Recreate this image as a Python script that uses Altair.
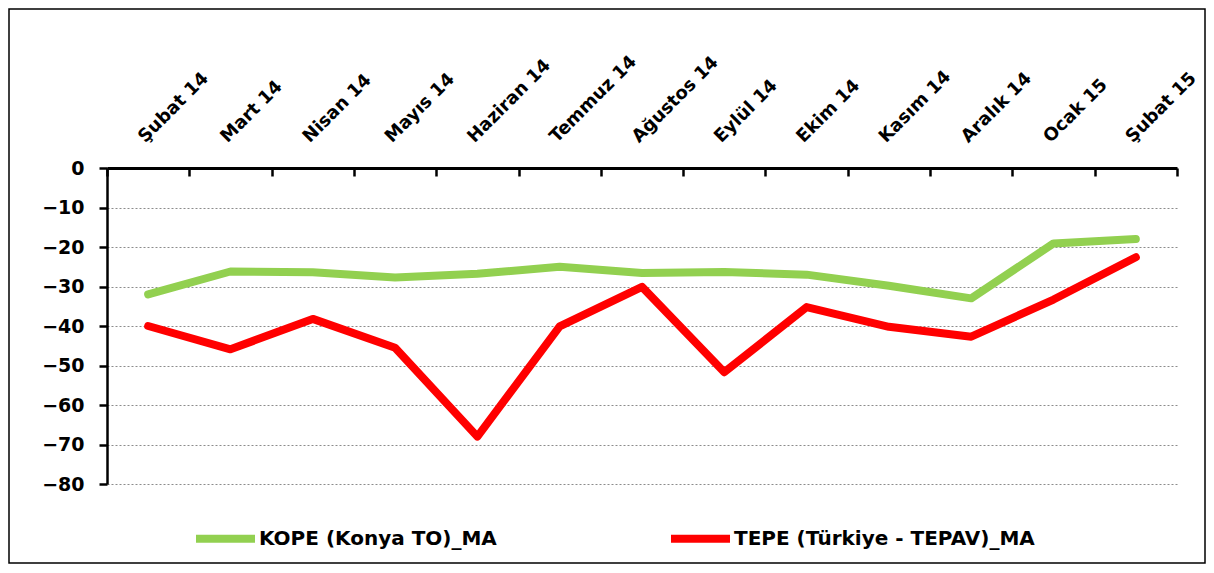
import altair as alt
import pandas as pd

months = ["Şubat 14", "Mart 14", "Nisan 14", "Mayıs 14", "Haziran 14", "Temmuz 14",
          "Ağustos 14", "Eylül 14", "Ekim 14", "Kasım 14", "Aralık 14", "Ocak 15", "Şubat 15"]
kope = [-32.0, -26.2, -26.4, -27.7, -26.8, -25.0, -26.6, -26.3, -27.0, -29.8, -33.0, -19.1, -18.0]
tepe = [-40.0, -45.9, -38.2, -45.5, -68.0, -40.1, -30.1, -51.7, -35.2, -40.2, -42.7, -33.3, -22.6]
series_names = ["KOPE (Konya TO)_MA", "TEPE (Türkiye - TEPAV)_MA"]
series_colors = ["#92D050", "#FF0000"]
y_ticks = [-80, -70, -60, -50, -40, -30, -20, -10, 0]

rows = []
for i, m in enumerate(months):
    rows.append({"month": m, "order": i, "series": series_names[0], "value": kope[i]})
    rows.append({"month": m, "order": i, "series": series_names[1], "value": tepe[i]})
df = pd.DataFrame(rows)

FONT = "DejaVu Sans"
W, H = 1070, 316
PAD_L, PAD_T, PAD_R, PAD_B = 99, 160, 29, 80

x_scale = alt.Scale(type="band", domain=months, paddingInner=0, paddingOuter=0)
y_scale = alt.Scale(domain=[-80, 0], nice=False)

y_axis = alt.Axis(values=y_ticks, format="d", domain=True, domainColor="black", domainWidth=2.5,
                  ticks=True, tickSize=8, tickWidth=2.5, tickColor="black",
                  labelFont=FONT, labelFontSize=19, labelFontWeight="bold", labelColor="black",
                  labelPadding=15, grid=True, gridColor="#8c8c8c", gridDash=[2, 2], gridWidth=1,
                  title=None)

color = alt.Color("series:N",
                  scale=alt.Scale(domain=series_names, range=series_colors),
                  legend=alt.Legend(orient="none", legendX=85, legendY=337, direction="horizontal",
                                    columns=2, title=None, symbolType="stroke", symbolSize=3481,
                                    symbolStrokeWidth=8, labelFont=FONT, labelFontSize=20,
                                    labelFontWeight="bold", labelColor="black", columnPadding=158,
                                    labelOffset=0, labelLimit=500))

base = alt.Chart(df)

lines = base.mark_line(strokeWidth=8, strokeCap="round", strokeJoin="round").encode(
    x=alt.X("month:N", scale=x_scale, sort=months, bandPosition=0.5, title=None,
            axis=alt.Axis(orient="top", domain=False, ticks=False, tickSize=0, labelAngle=315,
                          labelAlign="left", labelBaseline="alphabetic", labelPadding=25,
                          labelOffset=-3, labelFont=FONT, labelFontSize=18,
                          labelFontWeight="bold", labelColor="black", grid=False)),
    y=alt.Y("value:Q", scale=y_scale, axis=y_axis),
    color=color,
    order=alt.Order("order:Q"),
)

tick_layer = base.mark_line(opacity=0).encode(
    x=alt.X("month:N", scale=x_scale, sort=months, bandPosition=0.5, title=None,
            axis=alt.Axis(orient="bottom", offset=-H, labels=False, domain=True, domainWidth=3,
                          domainColor="black", ticks=True, tickSize=8, tickWidth=2.5,
                          tickColor="black", tickBand="extent", grid=False)),
    y=alt.Y("value:Q", scale=y_scale, axis=y_axis),
    detail="series:N",
    order=alt.Order("order:Q"),
)

border = alt.Chart(pd.DataFrame({"k": [0]})).mark_rect(
    fillOpacity=0, stroke="black", strokeWidth=1.5
).encode(x=alt.value(-PAD_L + 1), x2=alt.value(W + PAD_R - 1),
         y=alt.value(-PAD_T + 1), y2=alt.value(H + PAD_B - 1))

chart = alt.layer(lines, tick_layer, border).resolve_axis(x="independent").properties(
    width=W, height=H,
    padding={"left": PAD_L, "top": PAD_T, "right": PAD_R, "bottom": PAD_B},
    autosize=alt.AutoSizeParams(type="none"),
).configure_view(strokeWidth=0)

chart.save("out.html", embed_options={"renderer": "svg", "actions": False})
